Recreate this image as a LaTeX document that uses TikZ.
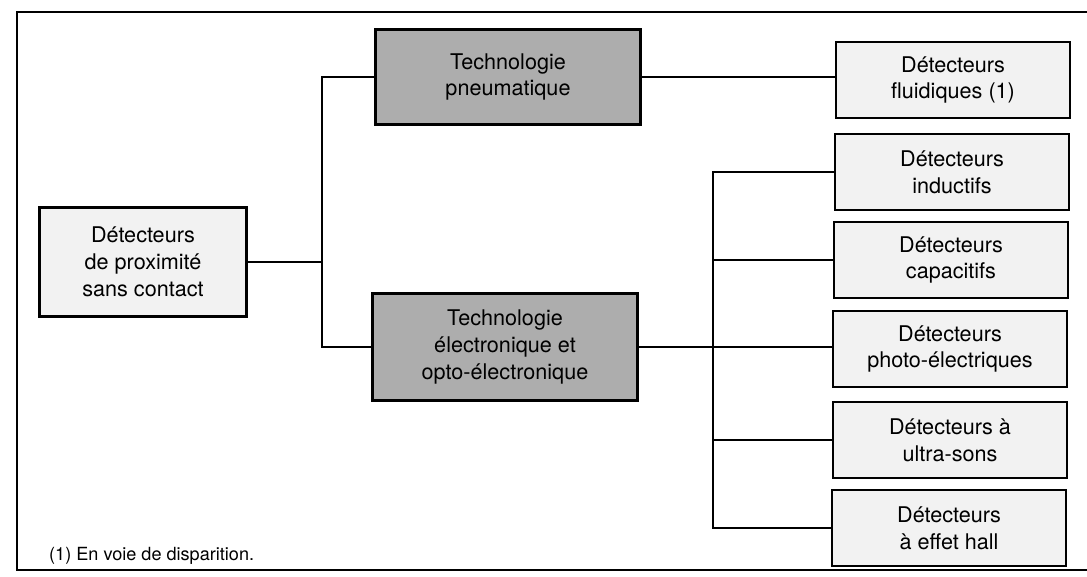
\documentclass[tikz,border=0pt]{standalone}
\usepackage{fontspec}
\setmainfont{TeX Gyre Heros}
\usetikzlibrary{calc}
\definecolor{papier}{gray}{0.95}
\definecolor{trame}{gray}{0.68}
\tikzset{
	boite/.style={draw, line width=1.6pt, align=center, inner sep=2pt,
		font=\fontsize{12.3}{15.3}\selectfont},
	claire/.style={boite, fill=papier, minimum width=4.68cm, minimum height=1.52cm},
	sombre/.style={boite, fill=trame, minimum width=5.3cm},
	trait/.style={line width=0.8pt}
}

\begin{document}
\begin{tikzpicture}[x=0.02cm, y=-0.02cm]
			%%%%% START %%%%%
			\useasboundingbox (0, 0) rectangle (1087, 576);
			
			% cadre
			\draw[line width=1.2pt] (1087, 12) -- (17, 12) -- (17, 570) -- (1087, 570);
			
			\node[boite, fill=papier, minimum width=4.14cm, minimum height=2.18cm] (main) at (143, 262) {Détecteurs\\de proximité\\sans contact};
			
			\node[sombre, minimum height=1.9cm] (pneu) at (508, 77) {Technologie\\pneumatique};
			\node[sombre, minimum height=2.14cm] (elec) at (505, 347) {Technologie\\électronique et\\opto-électronique};
			
			\node[claire] (fluid) at (953, 80) {Détecteurs\\fluidiques (1)};
			\node[claire] (induc) at (952, 172) {Détecteurs\\inductifs};
			\node[claire] (capa) at (951, 260) {Détecteurs\\capacitifs};
			\node[claire] (photo) at (950, 349) {Détecteurs\\photo-électriques};
			\node[claire] (ultra) at (950, 440) {Détecteurs à\\ultra-sons};
			\node[claire] (hall) at (949, 528) {Détecteurs\\à effet hall};
			
			\coordinate (gauche) at (322, 262);
			\coordinate (droite) at (713, 172);
			
			% liaisons
			\draw[trait] (main.east) -- (gauche);
			\draw[trait] (pneu.west) -| (gauche) |- (elec.west);
			\draw[trait] (pneu.east) -- (pneu.east -| fluid.west);
			\draw[trait] (induc.west) -- (droite) |- (hall.west);
			\draw[trait] (capa.west) -- (capa.west -| droite);
			\draw[trait] (elec.east) -- (elec.east -| photo.west);
			\draw[trait] (ultra.west) -- (ultra.west -| droite);
			
			\node[anchor=west, font=\fontsize{10.3}{12}\selectfont] (note) at (43, 556) {(1) En voie de disparition.};
			
			%%%%% END %%%%%
		\end{tikzpicture}
\end{document}
